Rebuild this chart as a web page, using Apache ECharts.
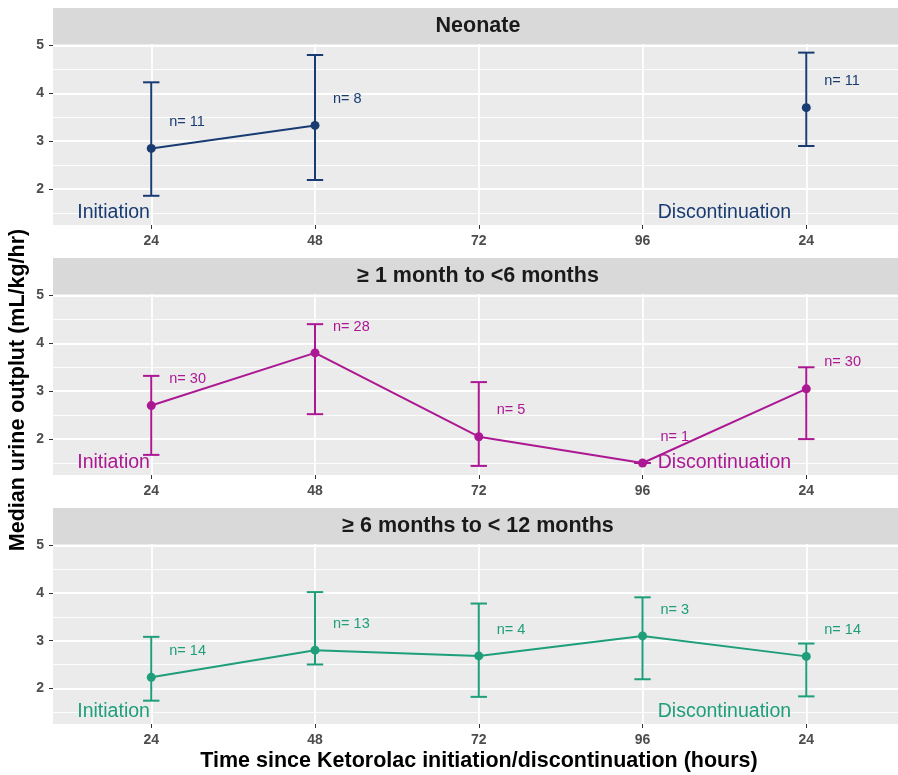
<!DOCTYPE html>
<html><head><meta charset="utf-8">
<script src="https://cdn.jsdelivr.net/npm/echarts@6/dist/echarts.min.js"></script>
<style>html,body{margin:0;padding:0;background:#fff}#c{width:898px;height:775px}</style>
</head><body><div id="c"></div>
<script>
// ---- data ----
const tickLabels = ['24', '48', '72', '96', '24'];
const xPositions = [1, 2, 3, 4, 5];
const yTicks = [2, 3, 4, 5];
const yMinorTicks = [1.5, 2.5, 3.5, 4.5];
const panelTitles = ['Neonate', '\u2265 1 month to <6 months', '\u2265 6 months to < 12 months'];
const phaseLabels = ['Initiation', 'Discontinuation'];
const phaseX = [0.77, 4.5];
const phaseY = [1.5, 1.5];

const neonateMedian = [2.85, 3.33, null, null, 3.70];
const neonateLow    = [1.86, 2.19, null, null, 2.90];
const neonateHigh   = [4.23, 4.80, null, null, 4.85];
const neonateN      = [11, 8, null, null, 11];

const infantMedian = [2.70, 3.80, 2.05, 1.50, 3.05];
const infantLow    = [1.67, 2.52, 1.44, 1.50, 2.00];
const infantHigh   = [3.32, 4.40, 3.19, 1.50, 3.50];
const infantN      = [30, 28, 5, 1, 30];

const olderMedian = [2.23, 2.80, 2.68, 3.10, 2.67];
const olderLow    = [1.74, 2.50, 1.82, 2.19, 1.83];
const olderHigh   = [3.08, 4.02, 3.78, 3.91, 2.94];
const olderN      = [14, 13, 4, 3, 14];

const colors = ['#183C72', '#AC1893', '#1E9E7A'];
const panelData = [
  {median: neonateMedian, low: neonateLow, high: neonateHigh, n: neonateN},
  {median: infantMedian, low: infantLow, high: infantHigh, n: infantN},
  {median: olderMedian, low: olderLow, high: olderHigh, n: olderN}
];

// ---- layout ----
const FONT = '"Liberation Sans", Arial, Helvetica, sans-serif';
const gridLeft = 53, gridWidth = 845;
const gridTops = [44, 294, 544];
const gridHeights = [181, 181, 180];
const stripH = 36;
const Y_MIN = 1.25, Y_MAX = 5.03;
const X_MIN = 0.4, X_MAX = 5.56;

const grids = [], xAxes = [], yAxes = [], series = [], graphics = [];

panelData.forEach((pd, p) => {
  const col = colors[p];
  grids.push({left: gridLeft, top: gridTops[p], width: gridWidth, height: gridHeights[p],
    show: true, backgroundColor: '#EBEBEB', borderWidth: 0, containLabel: false});
  xAxes.push({
    type: 'value', gridIndex: p, min: X_MIN, max: X_MAX,
    axisLine: {show: false},
    axisTick: {show: true, length: 4, customValues: xPositions, lineStyle: {color: '#333333', width: 1}},
    axisLabel: {customValues: xPositions, formatter: v => tickLabels[Math.round(v) - 1],
      color: '#4D4D4D', fontSize: 14, fontWeight: 'bold', fontFamily: FONT, margin: 9},
    splitLine: {show: true, lineStyle: {color: '#FFFFFF', width: 1.8}}
  });
  yAxes.push({
    type: 'value', gridIndex: p, min: Y_MIN, max: Y_MAX,
    axisLine: {show: false},
    axisTick: {show: true, length: 4, customValues: yTicks, lineStyle: {color: '#333333', width: 1}},
    axisLabel: {customValues: yTicks, color: '#4D4D4D', fontSize: 14, fontWeight: 'bold', fontFamily: FONT, margin: 9},
    splitLine: {show: true, lineStyle: {color: '#FFFFFF', width: 1.8}}
  });
  yAxes.push({
    type: 'value', gridIndex: p, min: Y_MIN, max: Y_MAX, position: 'left',
    axisLine: {show: false},
    axisTick: {show: false, customValues: yMinorTicks},
    axisLabel: {show: false, customValues: yMinorTicks},
    splitLine: {show: true, lineStyle: {color: '#FFFFFF', width: 0.9}}
  });
  const yIdx = p * 2;

  // error bars
  series.push({
    type: 'custom', xAxisIndex: p, yAxisIndex: yIdx, z: 3,
    data: xPositions.map((x, i) => [x, pd.low[i], pd.high[i]]).filter(d => d[1] != null),
    renderItem: (params, api) => {
      const x = api.value(0);
      const lo = api.coord([x, api.value(1)]);
      const hi = api.coord([x, api.value(2)]);
      const half = api.size([0.1, 0])[0] / 2;
      const style = {stroke: col, lineWidth: 2, fill: 'none'};
      return {type: 'group', children: [
        {type: 'line', shape: {x1: lo[0], y1: lo[1], x2: hi[0], y2: hi[1]}, style},
        {type: 'line', shape: {x1: hi[0] - half, y1: hi[1], x2: hi[0] + half, y2: hi[1]}, style},
        {type: 'line', shape: {x1: lo[0] - half, y1: lo[1], x2: lo[0] + half, y2: lo[1]}, style}
      ]};
    }
  });
  // median line + points
  series.push({
    type: 'line', xAxisIndex: p, yAxisIndex: yIdx, z: 4,
    data: xPositions.map((x, i) => [x, pd.median[i] == null ? '-' : pd.median[i]]),
    connectNulls: false,
    symbol: 'circle', symbolSize: 9, showSymbol: true,
    lineStyle: {color: col, width: 2},
    itemStyle: {color: col, borderWidth: 0},
    emphasis: {disabled: true}, animation: false
  });
  // n labels
  series.push({
    type: 'custom', xAxisIndex: p, yAxisIndex: yIdx, z: 5,
    data: xPositions.map((x, i) => [x, pd.median[i], pd.n[i]]).filter(d => d[2] != null),
    renderItem: (params, api) => {
      const pt = api.coord([api.value(0), api.value(1) + 0.55]);
      return {type: 'text', x: pt[0] + 18, y: pt[1],
        style: {text: 'n= ' + api.value(2), fill: col, font: '14.5px ' + FONT, align: 'left', verticalAlign: 'middle'}};
    }
  });
  // phase labels
  series.push({
    type: 'custom', xAxisIndex: p, yAxisIndex: yIdx, z: 5,
    data: phaseLabels.map((t, i) => [phaseX[i], phaseY[i], i]),
    renderItem: (params, api) => {
      const pt = api.coord([api.value(0), api.value(1)]);
      return {type: 'text', x: pt[0], y: pt[1],
        style: {text: phaseLabels[api.value(2)], fill: col, font: '19.5px ' + FONT, align: 'center', verticalAlign: 'middle'}};
    }
  });

  // strip
  graphics.push({type: 'rect', left: gridLeft, top: gridTops[p] - stripH,
    shape: {width: gridWidth, height: stripH}, style: {fill: '#D9D9D9'}, z: 1});
  graphics.push({type: 'text', x: 478, y: gridTops[p] - stripH / 2,
    style: {text: panelTitles[p], fill: '#1A1A1A', font: 'bold 21.5px ' + FONT, align: 'center', verticalAlign: 'middle'}, z: 2});
});

// axis titles
graphics.push({type: 'text', x: 479, y: 761,
  style: {text: 'Time since Ketorolac initiation/discontinuation (hours)', fill: '#000', font: 'bold 21.5px ' + FONT, align: 'center', verticalAlign: 'middle'}});
graphics.push({type: 'text', x: 18, y: 390, rotation: Math.PI / 2,
  style: {text: 'Median urine outplut (mL/kg/hr)', fill: '#000', font: 'bold 21.5px ' + FONT, align: 'center', verticalAlign: 'middle'}});

const chart = echarts.init(document.getElementById('c'), null, {renderer: 'canvas'});
chart.setOption({
  animation: false,
  backgroundColor: '#FFFFFF',
  grid: grids, xAxis: xAxes, yAxis: yAxes, series: series, graphic: graphics
});
</script></body></html>
